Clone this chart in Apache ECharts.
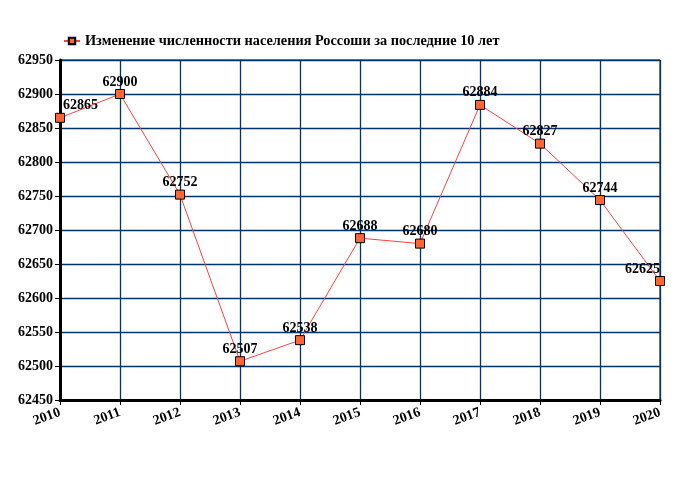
<!DOCTYPE html>
<html><head><meta charset="utf-8">
<script src="https://cdn.jsdelivr.net/npm/echarts@6/dist/echarts.min.js"></script>
<style>html,body{margin:0;padding:0;background:#fff}#c{width:680px;height:500px}</style>
</head><body><div id="c"></div>
<script>
const years = ['2010','2011','2012','2013','2014','2015','2016','2017','2018','2019','2020'];
const population = [62865, 62900, 62752, 62507, 62538, 62688, 62680, 62884, 62827, 62744, 62625];
const seriesName = 'Изменение численности населения Россоши за последние 10 лет';
const font = '"Liberation Serif", "DejaVu Serif", serif';

const data = population.map((v, i) => {
  const d = { value: v };
  if (i === 0) d.label = { align: 'left', offset: [3, 0] };
  if (i === population.length - 1) d.label = { align: 'right', offset: [0, 0] };
  return d;
});

const chart = echarts.init(document.getElementById('c'));
chart.setOption({
  animation: false,
  legend: {
    top: 29, left: 58,
    itemWidth: 16, itemHeight: 8, itemGap: 6,
    textStyle: { fontFamily: font, fontWeight: 'bold', fontSize: 14.3, color: '#000' },
    data: [{ name: seriesName }]
  },
  grid: { left: 60, right: 20, top: 60, bottom: 100, show: true, borderColor: '#000', borderWidth: 1, containLabel: false },
  xAxis: {
    type: 'category', data: years, boundaryGap: false,
    axisLine: { lineStyle: { color: '#000', width: 3 } },
    axisTick: { show: true, length: 5, lineStyle: { color: '#000', width: 1 } },
    axisLabel: { rotate: 20, fontFamily: font, fontWeight: 'bold', fontSize: 14, color: '#000', margin: 12 },
    splitLine: { show: true, lineStyle: { color: '#003366', width: 1.3 } }
  },
  yAxis: {
    type: 'value', min: 62450, max: 62950, interval: 50,
    axisLine: { show: true, lineStyle: { color: '#000', width: 3 } },
    axisTick: { show: true, length: 5, lineStyle: { color: '#000', width: 1 } },
    axisLabel: { fontFamily: font, fontWeight: 'bold', fontSize: 14, color: '#000', margin: 7, formatter: v => String(v) },
    splitLine: { show: true, lineStyle: { color: '#003366', width: 1.3 } }
  },
  series: [{
    name: seriesName, type: 'line', data: data,
    symbol: 'rect', symbolSize: 9,
    lineStyle: { color: '#ff4040', width: 1 },
    itemStyle: { color: '#ff6633', borderColor: '#000', borderWidth: 1 },
    label: { show: true, position: 'top', distance: 0, fontFamily: font, fontWeight: 'bold', fontSize: 14, color: '#000' },
    z: 5
  }]
});
</script></body></html>
